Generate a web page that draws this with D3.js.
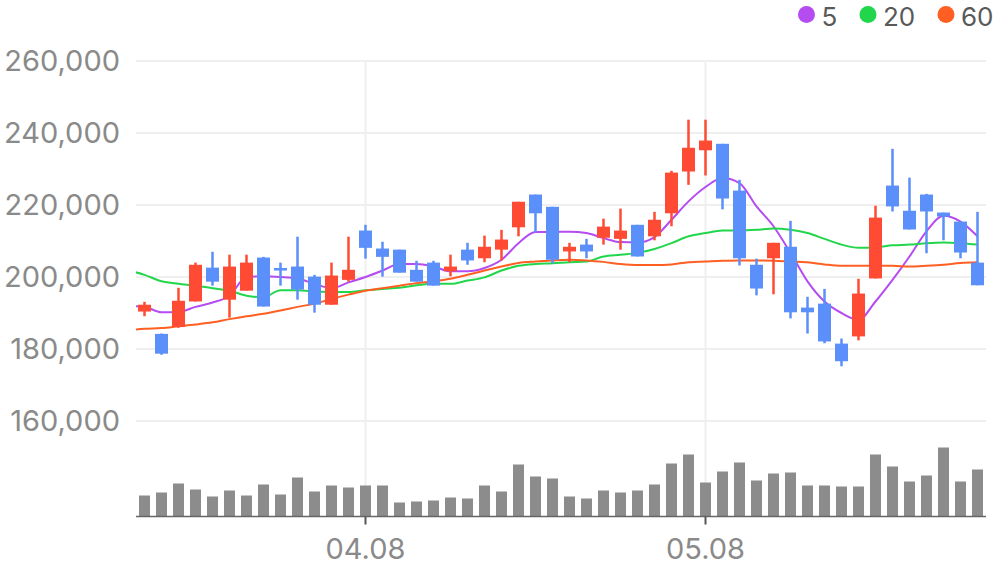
<!DOCTYPE html>
<html><head><meta charset="utf-8">
<script src="https://cdn.jsdelivr.net/npm/d3@7"></script>
<style>body{margin:0;background:#fff}svg{display:block}</style>
</head><body><svg id="c" width="996" height="567"></svg>
<script>
const categories = ["03.20","03.21","03.22","03.25","03.26","03.27","03.28","03.29","04.01","04.02","04.03","04.04","04.05",
  "04.08","04.09","04.10","04.11","04.12","04.15","04.16","04.17","04.18","04.19","04.22","04.23","04.24","04.25","04.26","04.29","04.30","05.02","05.03","05.07",
  "05.08","05.09","05.10","05.13","05.14","05.16","05.17","05.20","05.21","05.22","05.23","05.24","05.27","05.28","05.29","05.30","05.31"];
const opens  = [190400,184200,186100,193200,202600,193700,196200,205400,202500,202900,200100,192300,199200,212900,207900,207600,202000,204000,201600,207600,205200,207600,213800,222900,219500,207100,209000,210900,210600,214500,211300,217700,229300,235200,237000,224000,203400,205200,208400,191500,192600,181500,183500,199600,225400,218400,222900,217900,215400,204000];
const highs  = [193100,184300,197000,204000,207000,206200,206200,205600,204000,211200,200600,204000,211200,214500,209800,207600,204500,204500,206200,209500,211500,213100,220900,222900,219500,209500,210600,216200,219000,214500,218100,229500,243700,243700,237000,227000,205100,209500,215600,194500,196700,182900,199500,219800,235600,227600,223100,217900,215400,218100];
const lows   = [189100,178400,185900,193200,197600,188700,196200,191800,197600,193700,190100,192300,198700,205100,200100,201200,198700,197600,200200,203400,204100,204600,211300,212400,203800,204100,205200,209000,207600,205700,210200,214100,225600,228200,218800,203200,194900,195200,188500,184300,181600,175200,182400,199600,218200,213200,206600,210200,205200,197700];
const closes = [192300,178700,193400,203400,198700,202900,204000,191800,201800,196500,192300,200400,202000,208100,205600,201200,198700,197600,202900,204600,208400,210400,220900,217700,204800,208400,207100,214000,212900,205700,215900,229000,235900,237900,221800,205200,196800,209500,190200,190200,182100,176600,195400,216500,219600,213200,218200,216800,206800,197700];
const volumes = [210,240,330,270,200,260,210,320,220,390,250,310,290,310,310,140,150,160,190,180,310,250,520,400,380,200,180,260,240,260,320,530,620,340,450,540,360,430,440,310,310,300,300,620,500,350,410,690,350,470];
// moving averages; the first value belongs to the trading day before the visible window
const ma5  = [192000,191700,190200,190300,191700,192900,194800,200000,200200,200000,199600,198100,196900,198500,200000,201800,203600,203600,202900,201600,201600,202500,204800,209400,212500,212500,212600,212200,210800,209700,209600,211100,215900,221000,225000,227500,226100,219600,214100,206700,198800,193200,190000,188100,193200,199200,205700,212700,217000,215400,211300];
const ma20 = [201900,200600,198800,198100,197600,196900,196200,194800,194400,196300,196300,196000,195800,195800,196300,196700,197000,197700,198100,198100,199000,199900,201800,203100,203600,203800,204100,204300,205700,206200,206700,207800,209400,211300,212200,212900,212900,213100,213500,213100,212200,210600,209000,208100,208200,208800,209000,209400,209600,209400,209000];
const ma60 = [185200,185600,185800,186300,186800,187400,188300,189100,189800,190700,191700,192600,193900,195100,196200,196900,197600,198300,198800,199500,200600,201800,202900,203900,204300,204600,204800,204600,204200,203600,203300,203300,203500,204100,204300,204500,204600,204600,204500,204300,204100,203500,203100,203100,203100,203100,202900,203100,203400,203900,204100];
const yTicks = [160000,180000,200000,220000,240000,260000];
const xTickLabels = ["04.08","05.08"];
const maNames = ["5","20","60"];

const colors = {up:"#FF4B33", down:"#5B8FF9", vol:"#8C8C8C", ma:["#B44CF2","#22D64C","#FF5F22"]};
const svg = d3.select("#c");
const left = 136, right = 986, bottom = 516.5;
const font = "Inter, 'Liberation Sans', sans-serif";

const x = d3.scaleBand().domain(categories).range([left, right]).paddingInner(4/17).paddingOuter(2/17);
const step = x.step();
const cx = i => x(categories[0]) + x.bandwidth()/2 + i*step;
const y = d3.scaleLinear().domain([160000, 260000]).range([421, 61]);
const yv = d3.scaleLinear().domain([0, 700]).range([bottom, bottom - 70]);

// grid
svg.append("g").selectAll("line").data(yTicks).join("line")
  .attr("x1", left).attr("x2", right).attr("y1", d => y(d)).attr("y2", d => y(d))
  .attr("stroke", "#EFEFEF").attr("stroke-width", 2);
svg.append("g").selectAll("line").data(xTickLabels).join("line")
  .attr("x1", d => x(d) + x.bandwidth()/2).attr("x2", d => x(d) + x.bandwidth()/2)
  .attr("y1", y(260000)).attr("y2", bottom)
  .attr("stroke", "#EFEFEF").attr("stroke-width", 2);

// volume
const vw = x.bandwidth() * 11/13;
svg.append("g").selectAll("rect").data(volumes).join("rect")
  .attr("x", (d,i) => cx(i) - vw/2).attr("width", vw)
  .attr("y", d => yv(d)).attr("height", d => bottom - yv(d))
  .attr("fill", colors.vol);

// y axis
const ya = svg.append("g").attr("transform", "translate(120,0)")
  .call(d3.axisLeft(y).tickValues(yTicks).tickSize(0).tickPadding(0).tickFormat(d3.format(",")));
ya.select(".domain").remove();
ya.selectAll("text").attr("fill", "#8A8A8A").style("font-family", font).style("font-size", "29px");

// x axis
const xa = svg.append("g").attr("transform", `translate(0,${bottom})`)
  .call(d3.axisBottom(x).tickValues(xTickLabels).tickSize(8).tickPadding(14));
xa.select(".domain").attr("stroke", "#666").attr("stroke-width", 1.6).attr("d", `M${left},0H${right}`);
xa.selectAll(".tick line").attr("stroke", "#555").attr("stroke-width", 2);
xa.selectAll("text").attr("fill", "#8A8A8A").style("font-family", font).style("font-size", "29px");

// MA lines
svg.append("clipPath").attr("id", "clip").append("rect")
  .attr("x", left).attr("y", 0).attr("width", right - left).attr("height", bottom);
const line = d3.line().x((d,i) => cx(i - 1)).y(d => y(d)).curve(d3.curveMonotoneX);
svg.append("g").attr("clip-path", "url(#clip)").selectAll("path").data([ma5, ma20, ma60]).join("path")
  .attr("d", line).attr("fill", "none").attr("stroke", (d,i) => colors.ma[i]).attr("stroke-width", 2);

// candles
const idx = d3.range(categories.length);
const col = i => closes[i] >= opens[i] ? colors.up : colors.down;
const cg = svg.append("g");
cg.selectAll("line").data(idx).join("line")
  .attr("x1", i => cx(i)).attr("x2", i => cx(i))
  .attr("y1", i => y(highs[i])).attr("y2", i => y(lows[i]))
  .attr("stroke", col).attr("stroke-width", 2.5);
cg.selectAll("rect").data(idx).join("rect")
  .attr("x", i => cx(i) - x.bandwidth()/2).attr("width", x.bandwidth())
  .attr("y", i => y(Math.max(opens[i], closes[i])))
  .attr("height", i => Math.max(1, Math.abs(y(opens[i]) - y(closes[i]))))
  .attr("fill", col);

// legend
const lgX = [806.5, 868, 946];
const lg = svg.append("g").selectAll("g").data(maNames).join("g")
  .attr("transform", (d,i) => `translate(${lgX[i]},0)`);
lg.append("circle").attr("cy", 14.5).attr("r", 8.5).attr("fill", (d,i) => colors.ma[i]);
lg.append("text").attr("x", 15).attr("y", 25.5).text(d => d)
  .attr("fill", "#595959").style("font-family", font).style("font-size", "26px");
</script></body></html>
